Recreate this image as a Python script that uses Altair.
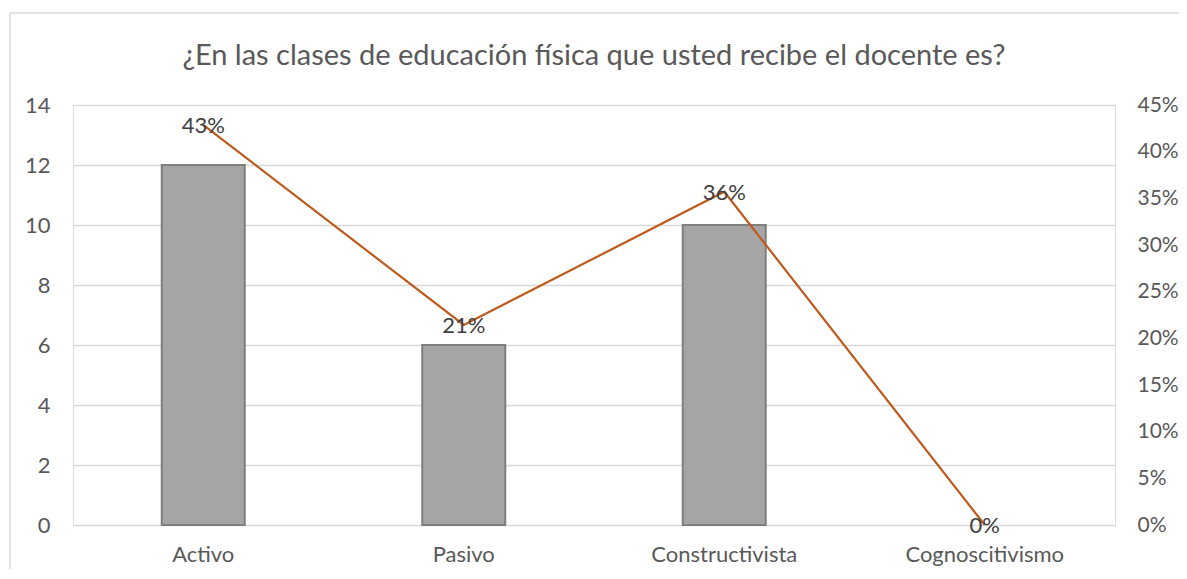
import altair as alt
import pandas as pd

title_text = "¿En las clases de educación física que usted recibe el docente es?"
categories = ["Activo", "Pasivo", "Constructivista", "Cognoscitivismo"]
counts = [12, 6, 10, 0]
shares = [0.4286, 0.2143, 0.3571, 0.0]
share_labels = ["43%", "21%", "36%", "0%"]

df = pd.DataFrame({"cat": categories, "n": counts, "p": shares, "lab": share_labels})

FONT = "Lato"
TXT = "#595959"
FS = 22
W = 1042

x = alt.X("cat:N", sort=categories, title=None,
          scale=alt.Scale(paddingInner=0, paddingOuter=0),
          axis=alt.Axis(labelAngle=0, ticks=False, domain=False, labelPadding=19,
                        labelFontSize=FS, labelColor=TXT, labelFont=FONT, grid=False))

bars = alt.Chart(df).mark_bar(size=83, color="#A5A5A5", stroke="#7F7F7F").encode(
    x=x,
    y=alt.Y("n:Q", title=None, scale=alt.Scale(domain=[0, 14], nice=False),
            axis=alt.Axis(values=list(range(0, 15, 2)), orient="left", ticks=False, domain=False,
                          labelPadding=23, labelFontSize=FS, labelColor=TXT, labelFont=FONT,
                          grid=True, gridColor="#D9D9D9", gridWidth=1.5)),
    strokeWidth=alt.condition("datum.n > 0", alt.value(2), alt.value(0)),
)

yline = alt.Y("p:Q", title=None, scale=alt.Scale(domain=[0, 0.45], nice=False),
              axis=alt.Axis(values=[i * 0.05 for i in range(10)], format=".0%", orient="right",
                            ticks=False, domain=False, labelPadding=22, labelFontSize=21,
                            labelColor=TXT, labelFont=FONT, grid=False))

line = alt.Chart(df).mark_line(color="#BE5A1C", strokeWidth=2.2).encode(
    x=alt.X("cat:N", sort=categories), y=yline)

text = alt.Chart(df).mark_text(fontSize=FS, font=FONT, color="#404040", baseline="middle", dy=1).encode(
    x=alt.X("cat:N", sort=categories), y=alt.Y("p:Q"), text="lab:N")

line_layer = alt.layer(line, text)

deco = pd.DataFrame({"t": [title_text]})

frame = alt.Chart(deco).mark_rect(
    fill=None, stroke="#D9D9D9", strokeWidth=1.5).encode(
    x=alt.value(-63), x2=alt.value(1200), y=alt.value(-92), y2=alt.value(480))

title = alt.Chart(deco).mark_text(fontSize=29, font=FONT, color=TXT, baseline="alphabetic",
                                  align="center").encode(
    x=alt.value(W / 2), y=alt.value(-40), text="t:N")

chart = alt.layer(frame, title, bars, line_layer).resolve_scale(y="independent").properties(
    width=W, height=420,
    autosize=alt.AutoSizeParams(type="none"),
    padding={"left": 65, "top": 97, "right": 64, "bottom": 44},
).configure_view(stroke=None).configure(background="white")

chart.save("out.html", embed_options={"renderer": "svg", "actions": False})
